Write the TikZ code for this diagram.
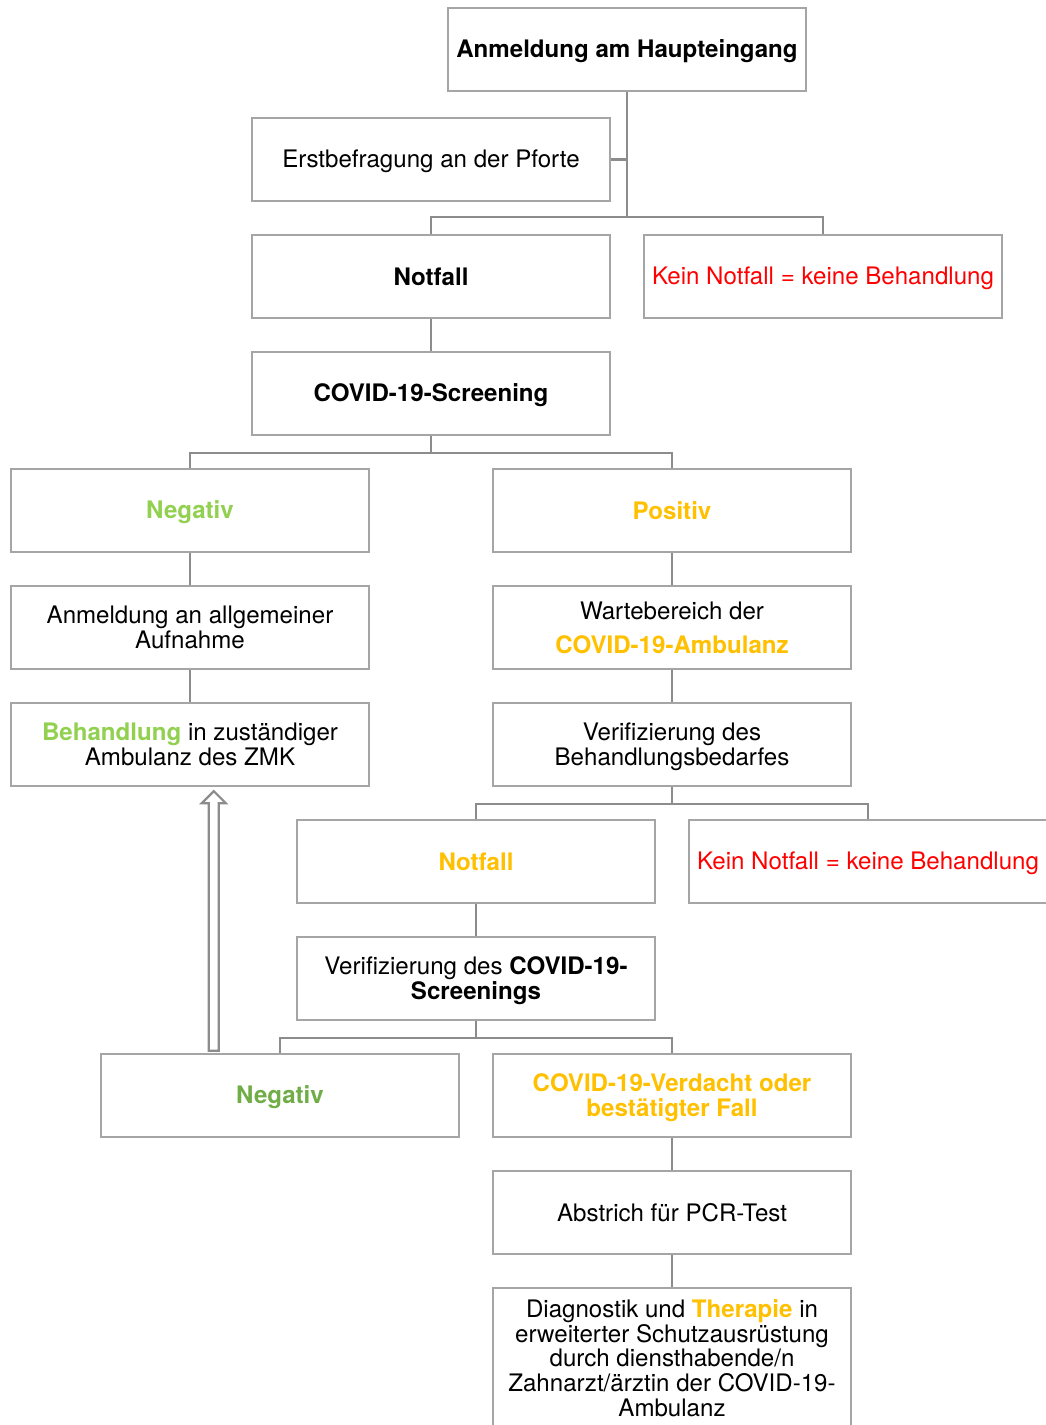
\documentclass[tikz,border=0pt]{standalone}
\usepackage{fontspec}
\setmainfont{TeX Gyre Heros}
\usetikzlibrary{calc}
\definecolor{boxgray}{HTML}{A5A5A5}
\definecolor{linegray}{HTML}{8C8C8C}
\definecolor{alertred}{HTML}{FF0000}
\definecolor{covidyellow}{HTML}{FFC000}
\definecolor{lightgreen}{HTML}{92D050}
\definecolor{darkgreen}{HTML}{70AD47}
\newcommand{\flowfont}{\fontsize{24.1}{24.6}\selectfont}
% single-line labels sit a little lower in their boxes
\newcommand{\lo}[1]{\raisebox{-2pt}[\height][\depth]{#1}}
\begin{document}
\begin{tikzpicture}[x=1pt,y=-1pt,
  flowbox/.style={draw=boxgray, line width=2.4pt, fill=white,
    minimum width=358pt, minimum height=83pt, inner sep=0pt,
    align=center, font=\flowfont},
  conn/.style={draw=linegray, line width=2.4pt},
  hollowarrow/.style={draw=linegray, line width=2.2pt, fill=white, line join=miter}]
\useasboundingbox (0,0) rectangle (1045,1425);

% boxes
\node[flowbox] (b1) at (627,49.5) {\lo{\textbf{Anmeldung am Haupteingang}}};
\node[flowbox] (b2) at (431,159.5) {\lo{Erstbefragung an der Pforte}};
\node[flowbox] (b3) at (431,276.5) {\textbf{Notfall}};
\node[flowbox] (b4) at (823,276.5) {\lo{\textcolor{alertred}{Kein Notfall = keine Behandlung}}};
\node[flowbox] (b5) at (431,393.5) {\lo{\textbf{COVID-19-Screening}}};
\node[flowbox] (b6) at (190,510.5) {\lo{\textcolor{lightgreen}{\textbf{Negativ}}}};
\node[flowbox] (b7) at (672,510.5) {\textcolor{covidyellow}{\textbf{Positiv}}};
\node[flowbox] (b8) at (190,627.5) {Anmeldung an allgemeiner\\Aufnahme};
\node[flowbox] (b9) at (672,627.5) {Wartebereich der\\[9.4pt]\textcolor{covidyellow}{\textbf{COVID-19-Ambulanz}}};
\node[flowbox] (b10) at (190,744.5) {\textcolor{lightgreen}{\textbf{Behandlung}} in zuständiger\\Ambulanz des ZMK};
\node[flowbox] (b11) at (672,744.5) {\lo{Verifizierung des}\\\lo{Behandlungsbedarfes}};
\node[flowbox] (b12) at (476,861.5) {\textcolor{covidyellow}{\textbf{Notfall}}};
\node[flowbox] (b13) at (868,861.5) {\lo{\textcolor{alertred}{Kein Notfall = keine Behandlung}}};
\node[flowbox] (b14) at (476,978.5) {\lo{Verifizierung des \textbf{COVID-19-}}\\\lo{\textbf{Screenings}}};
\node[flowbox] (b15) at (280,1095.5) {\lo{\textcolor{darkgreen}{\textbf{Negativ}}}};
\node[flowbox] (b16) at (672,1095.5) {\lo{\textcolor{covidyellow}{\textbf{COVID-19-Verdacht oder}}}\\\lo{\textcolor{covidyellow}{\textbf{bestätigter Fall}}}};
\node[flowbox] (b17) at (672,1212.5) {Abstrich für PCR-Test};
\node[flowbox, minimum height=140pt] (b18) at (672,1358) {Diagnostik und \textcolor{covidyellow}{\textbf{Therapie}} in\\erweiterter Schutzausrüstung\\durch diensthabende/n\\Zahnarzt/ärztin der COVID-19-\\Ambulanz};

% branch: entrance -> emergency / no emergency
\coordinate (j1) at ($(b3.north)+(0,-17)$);
\draw[conn] (b1.south) -- (b1.south |- j1);
\draw[conn] (b2.east) -- (b2.east -| b1.south);
\draw[conn] (b3.north) -- (j1) -| (b4.north);
\draw[conn] (b3.south) -- (b5.north);

% branch: screening result
\coordinate (j2) at ($(b5.south)+(0,17)$);
\draw[conn] (b5.south) -- (j2);
\draw[conn] (b6.north) |- (j2) -| (b7.north);
\draw[conn] (b6.south) -- (b8.north);
\draw[conn] (b8.south) -- (b10.north);
\draw[conn] (b7.south) -- (b9.north);
\draw[conn] (b9.south) -- (b11.north);

% branch: treatment need
\coordinate (j3) at ($(b11.south)+(0,17)$);
\draw[conn] (b11.south) -- (j3);
\draw[conn] (b12.north) |- (j3) -| (b13.north);
\draw[conn] (b12.south) -- (b14.north);

% branch: second screening
\coordinate (j4) at ($(b14.south)+(0,17)$);
\draw[conn] (b14.south) -- (j4);
\draw[conn] (b15.north) |- (j4) -| (b16.north);
\draw[conn] (b16.south) -- (b17.north);
\draw[conn] (b17.south) -- (b18.north);

% hollow block arrow from negative re-screening up to treatment
\coordinate (ab) at ($(b15.north west)+(114,-2)$);
\coordinate (at) at ($(ab |- b10.south)+(0,4)$);
\draw[hollowarrow] ($(ab)+(-5,0)$) -- ($(at)+(-5,12)$) -- ($(at)+(-12,12)$)
  -- (at) -- ($(at)+(12,12)$) -- ($(at)+(5,12)$) -- ($(ab)+(5,0)$) -- cycle;
\end{tikzpicture}
\end{document}
